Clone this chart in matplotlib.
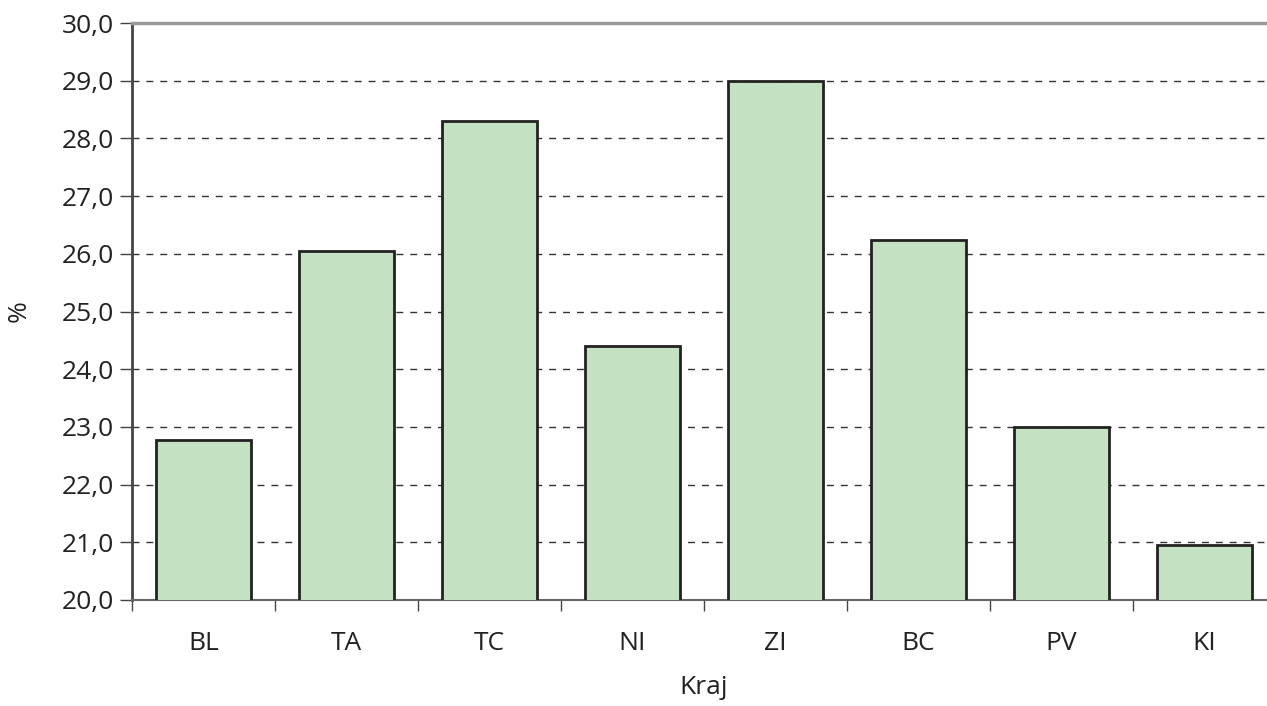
import numpy as np
import matplotlib
matplotlib.use('Agg')
import matplotlib.pyplot as plt
from matplotlib.ticker import FuncFormatter, MultipleLocator

plt.rcParams['font.family'] = ['Open Sans', 'DejaVu Sans']

kraje = ['BL', 'TA', 'TC', 'NI', 'ZI', 'BC', 'PV', 'KI']
hodnoty = [22.77, 26.05, 28.31, 24.41, 29.0, 26.24, 23.0, 20.95]

W, H = 1267, 706
fig = plt.figure(figsize=(W / 100, H / 100), dpi=100)
# axes runs slightly past the right edge, like the original crop
ax = fig.add_axes([132 / W, 1 - 600 / H, 1144 / W, 577 / H])

x = np.arange(len(kraje))
ax.bar(x, hodnoty, width=0.66, bottom=0, color='#c4e2c1', edgecolor='#222222',
       linewidth=2, zorder=3)

ax.set_ylim(20, 30)
ax.set_xlim(-0.5, len(kraje) - 0.5)
ax.yaxis.set_major_locator(MultipleLocator(1))
ax.yaxis.set_major_formatter(FuncFormatter(lambda v, p: f'{v:.1f}'.replace('.', ',')))
ax.grid(axis='y', linestyle=(0, (5, 5)), color='#333333', linewidth=1, zorder=1)

ax.set_xticks(x)
ax.set_xticklabels(kraje)
ax.set_xticks(np.arange(len(kraje) + 1) - 0.5, minor=True)
ax.tick_params(axis='x', which='major', length=0, pad=22, labelsize=19, colors='#222222')
ax.tick_params(axis='x', which='minor', length=8, width=1, color='#444444')
ax.tick_params(axis='y', length=9, width=1, color='#444444', labelsize=19,
               labelcolor='#222222', pad=4)

ax.spines['left'].set_color('#444444')
ax.spines['left'].set_linewidth(2)
ax.spines['bottom'].set_color('#666666')
ax.spines['bottom'].set_linewidth(1.5)
ax.spines['top'].set_color('#999999')
ax.spines['top'].set_linewidth(2.5)
ax.spines['right'].set_visible(False)

ax.set_xlabel('Kraj', fontsize=19, color='#222222', labelpad=14)
ax.set_ylabel('%', fontsize=19, color='#222222', labelpad=22)

fig.savefig('out.png', dpi=100)
